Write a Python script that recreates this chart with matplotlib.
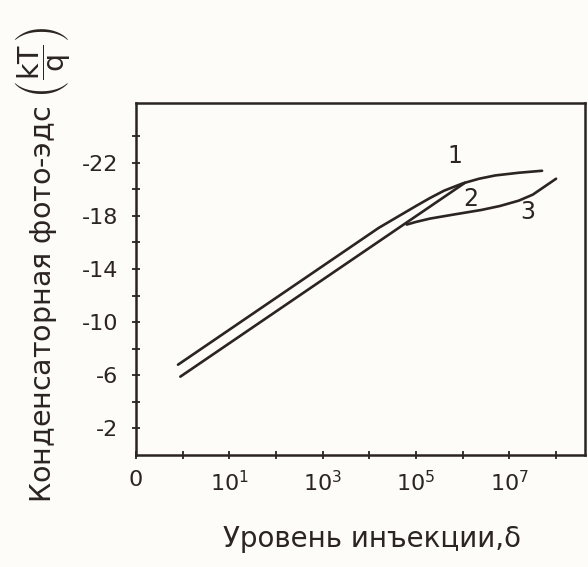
import matplotlib.pyplot as plt
import numpy as np

# log10 of injection level (x) and photo-emf in kT/q units (y)
curve1_x = [-0.1, 4.2, 5.0, 5.3, 5.6, 6.0, 6.35, 6.7, 7.2, 7.7]
curve1_y = [-6.8, -17.1, -18.75, -19.35, -19.9, -20.45, -20.8, -21.05, -21.25, -21.4]

curve2_x = [-0.05, 6.05]
curve2_y = [-5.9, -20.5]

curve3_x = [4.8, 5.0, 5.3, 5.8, 6.4, 6.8, 7.2, 7.5, 8.0]
curve3_y = [-17.35, -17.55, -17.8, -18.1, -18.45, -18.75, -19.15, -19.6, -20.8]

curve_labels = ["1", "2", "3"]
label_x = [5.84, 6.17, 7.40]
label_y = [-22.5, -19.3, -18.3]

x_ticks = [-1, 0, 1, 2, 3, 4, 5, 6, 7, 8]
x_ticklabels = ["0", "", "$10^1$", "", "$10^3$", "", "$10^5$", "", "$10^7$", ""]
y_ticks = [-2, -4, -6, -8, -10, -12, -14, -16, -18, -20, -22, -24]
y_ticklabels = ["-2", "", "-6", "", "-10", "", "-14", "", "-18", "", "-22", ""]

ink = "#2b2420"
paper = "#fdfcf8"

plt.rcParams["font.family"] = ["DejaVu Sans"]

fig = plt.figure(figsize=(5.88, 5.67), dpi=100, facecolor=paper)
ax = fig.add_axes([0.2313, 0.1975, 0.7636, 0.6208], facecolor=paper)

# Curves
ax.plot(curve1_x, curve1_y, color=ink, lw=1.9, solid_capstyle="round")
ax.plot(curve2_x, curve2_y, color=ink, lw=1.9, solid_capstyle="round")
ax.plot(curve3_x, curve3_y, color=ink, lw=1.9, solid_capstyle="round")

for t, lx, ly in zip(curve_labels, label_x, label_y):
    ax.text(lx, ly, t, fontsize=17, color=ink, ha="center", va="center")

ax.set_xlim(-1, 8.62)
ax.set_ylim(0, -26.5)

ax.set_xticks(x_ticks)
ax.set_xticklabels(x_ticklabels)
ax.set_yticks(y_ticks)
ax.set_yticklabels(y_ticklabels)

ax.tick_params(direction="inout", length=6, width=1.3, colors=ink,
               labelsize=16, labelcolor=ink)
ax.tick_params(axis="x", pad=8)
ax.tick_params(axis="y", pad=10)

for s in ax.spines.values():
    s.set_color(ink)
    s.set_linewidth(1.8)

ax.set_xlabel("Уровень инъекции,δ", fontsize=20, color=ink)
ax.xaxis.set_label_coords(0.525, -0.2)
ax.set_ylabel(r"Конденсаторная фото-эдс $\left(\dfrac{\mathrm{kT}}{\mathrm{q}}\right)$",
              fontsize=20.5, color=ink)
ax.yaxis.label.set_verticalalignment("baseline")
ax.yaxis.set_label_coords(-0.187, 0.54)

fig.savefig("out.png", dpi=100, facecolor=paper)
